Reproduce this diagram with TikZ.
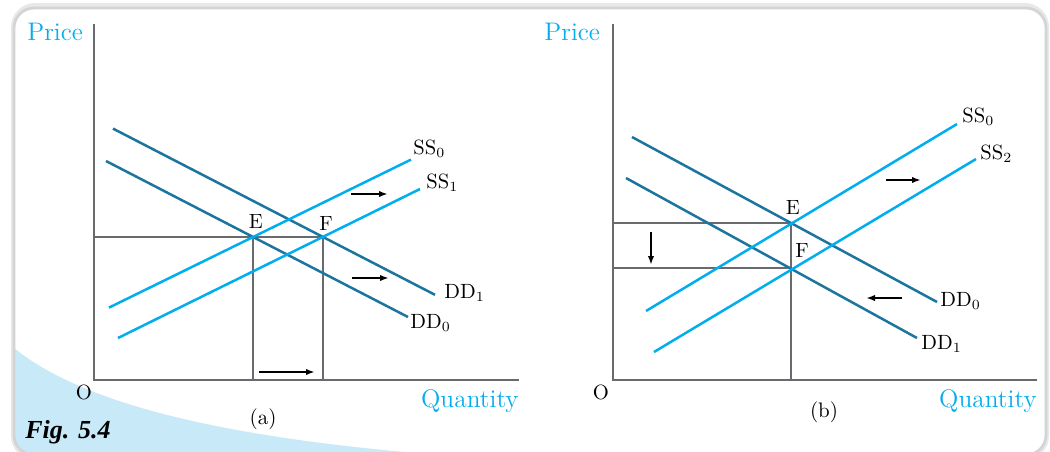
\documentclass[tikz,border=0pt]{standalone}
\usepackage{fontspec}
\usepackage{tikz}
\usetikzlibrary{arrows.meta, positioning, calc}
\newfontfamily\figfont{Liberation Serif}
\definecolor{pricecyan}{RGB}{0,174,239}
\definecolor{ddblue}{RGB}{28,117,158}
\definecolor{axisgray}{RGB}{105,106,110}
\definecolor{tintblue}{RGB}{199,233,248}
\definecolor{framegray}{RGB}{212,212,214}

\tikzset{
  axisline/.style={axisgray, line width=1.1pt},
  ssline/.style={pricecyan, line width=1.25pt},
  ddline/.style={ddblue, line width=1.25pt},
  shiftarrow/.style={-{Latex[length=4.5pt,width=3.2pt]}, line width=0.9pt, black},
  curvelabel/.style={font=\fontsize{10.3}{12}\selectfont, inner sep=0pt},
  axislabel/.style={text=pricecyan, font=\fontsize{12.7}{15}\selectfont, inner sep=0pt},
}

\begin{document}
\begin{tikzpicture}[x=0.5pt, y=-0.5pt]
  \useasboundingbox (0,0) rectangle (1050,451);
  \clip (0,0) rectangle (1050,451);
  % frame with soft shadow
  \fill[gray!18, rounded corners=12] (11,3) rectangle (1049,460);
  \fill[white, rounded corners=10] (14,8) rectangle (1046,455);
  \begin{scope}
    \clip[rounded corners=10] (14,8) rectangle (1046,455);
    \fill[tintblue] (14,348) .. controls (90,410) and (250,440) .. (440,455) -- (14,455) -- cycle;
  \end{scope}
  \draw[framegray, line width=1.4pt, rounded corners=10] (14,8) rectangle (1046,455);
  \node[font=\figfont\fontsize{13}{15}\selectfont\bfseries\itshape, anchor=west, inner sep=0pt] (fig) at (25,432) {Fig.\,\,5.4};

  % ---------------- panel (a) ----------------
  \coordinate (oa) at (94,380);
  \coordinate (Ea) at (253,237);
  \coordinate (Fa) at (323,237);
  \draw[axisline] (94,24) -- (oa) -- (519,380);
  \draw[axisline] (94,237) -- (Fa) -- (323,380);
  \draw[axisline] (Ea) -- (253,380);
  % demand curves
  \draw[ddline] (106,161) coordinate (dd0a) -- (408,317) coordinate (dd0b);
  \draw[ddline] (113,128.6) coordinate (dd1a) -- (435,294.8) coordinate (dd1b);
  % supply curves
  \draw[ssline] (109,307.6) coordinate (ss0a) -- (411,159.6) coordinate (ss0b);
  \draw[ssline] (118,338) coordinate (ss1a) -- (420,189) coordinate (ss1b);
  % labels
  \node[curvelabel] (Elab) at (256,221) {E};
  \node[curvelabel] (Flab) at (326,223) {F};
  \node[curvelabel, anchor=west] (ss0lab) at (413,149) {SS$_0$};
  \node[curvelabel, anchor=west] (ss1lab) at (426,183) {SS$_1$};
  \node[curvelabel, anchor=west] (dd1lab) at (444,293) {DD$_1$};
  \node[curvelabel, anchor=west] (dd0lab) at (410,323) {DD$_0$};
  \node[curvelabel] (Oa) at (84,392) {O};
  \node[axislabel, anchor=west] (pricea) at (27,32) {Price};
  \node[axislabel, anchor=east] (qtya) at (519,401) {Quantity};
  \node[font=\fontsize{10.5}{12}\selectfont, inner sep=0pt] (capa) at (263,419) {(a)};
  % shifts
  \coordinate (a1s) at (351,194); \coordinate (a1e) at (388,194);
  \coordinate (a2s) at (352,278); \coordinate (a2e) at (389,278);
  \coordinate (a3s) at (259,372); \coordinate (a3e) at (315,372);
  \foreach \s/\e in {a1s/a1e, a2s/a2e, a3s/a3e}
    \draw[shiftarrow] (\s) -- (\e);

  % ---------------- panel (b) ----------------
  \coordinate (ob) at (613,380);
  \coordinate (Eb) at (791,223);
  \coordinate (Fb) at (791,268);
  \draw[axisline] (613,24) -- (ob) -- (1037,380);
  \draw[axisline] (613,223) -- (Eb) -- (791,380);
  \draw[axisline] (613,268) -- (Fb);
  % demand curves
  \draw[ddline] (632,137) coordinate (dd0c) -- (937,302) coordinate (dd0d);
  \draw[ddline] (626,178) coordinate (dd1c) -- (917,338) coordinate (dd1d);
  % supply curves
  \draw[ssline] (646,311) coordinate (ss0c) -- (957,124) coordinate (ss0d);
  \draw[ssline] (654,352) coordinate (ss2c) -- (976,159) coordinate (ss2d);
  % labels
  \node[curvelabel] (Eblab) at (793,207) {E};
  \node[curvelabel] (Fblab) at (802,250) {F};
  \node[curvelabel, anchor=west] (ss0blab) at (962,117) {SS$_0$};
  \node[curvelabel, anchor=west] (ss2blab) at (980,154) {SS$_2$};
  \node[curvelabel, anchor=west] (dd0blab) at (940,301) {DD$_0$};
  \node[curvelabel, anchor=west] (dd1blab) at (921,344) {DD$_1$};
  \node[curvelabel] (Ob) at (601,392) {O};
  \node[axislabel, anchor=west] (priceb) at (544,32) {Price};
  \node[axislabel, anchor=east] (qtyb) at (1037,401) {Quantity};
  \node[font=\fontsize{10.5}{12}\selectfont, inner sep=0pt] (capb) at (824,412) {(b)};
  % shifts
  \coordinate (b1s) at (886,180); \coordinate (b1e) at (921,180);
  \coordinate (b2s) at (902,298); \coordinate (b2e) at (866,298);
  \coordinate (b3s) at (651,232); \coordinate (b3e) at (651,265);
  \foreach \s/\e in {b1s/b1e, b2s/b2e, b3s/b3e}
    \draw[shiftarrow] (\s) -- (\e);
\end{tikzpicture}
\end{document}
